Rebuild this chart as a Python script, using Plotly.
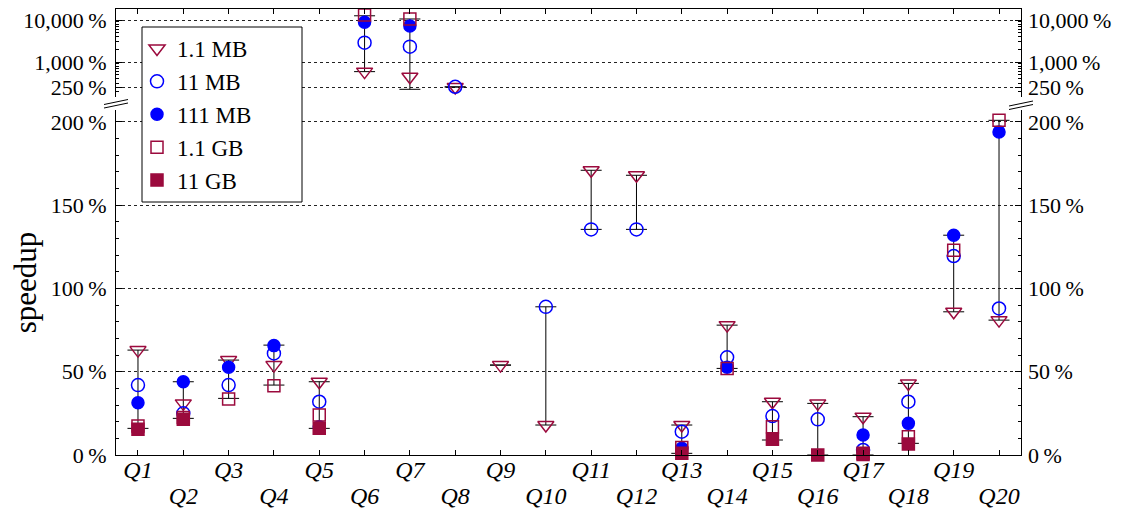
import plotly.graph_objects as go

# speedup per query (%) for each data size, None = no value
queries = [f"Q{i}" for i in range(1, 21)]
mb_1_1 = [63, 31, 57, 54, 44, 590, 447, 255, 54, 18, 171, 168, 18, 78, 32, 31, 23, 43, 86, 81]
mb_11 = [42, 25, 42, 61, 32, 2890, 2320, 257, None, 89, 135.5, 135.5, 14, 58.7, 23.4, 21.4, 3, 32, 119.5, 88]
mb_111 = [31.4, 44, 52.7, 65.7, 17, 8800, 7200, None, None, None, None, None, 4, 52.7, None, None, 12, 19, 132, 194]
gb_1_1 = [17.4, 22.5, 33.6, 41.6, 24, 13150, 10570, None, None, None, None, None, 4.5, 52, 17, None, 1, 11, 123, 201]
gb_11 = [15.4, 21.5, None, None, 16, None, None, None, None, None, None, None, 1, None, 9.4, 0, 0.3, 6.6, None, None]

# vertical range bars per query
range_lo = [16, 22, 34, 42, 16, 590, 224, 255, 54, 18, 135.5, 135.5, 1, 52, 9, 0, 0, 7, 86, 81]
range_hi = [63, 44, 57, 66, 44, 12600, 10570, 255, 54, 89, 171, 168, 18, 78, 32, 31, 23, 43, 132, 201]

low_ticks = [0, 50, 100, 150, 200]
high_ticks = [250, 1000, 10000]
low_labels = ["0\u2009%", "50\u2009%", "100\u2009%", "150\u2009%", "200\u2009%"]
high_labels = ["250\u2009%", "1,000\u2009%", "10,000\u2009%"]

LOW_TOP = 207.2
HIGH_RANGE = [2.167, 4.262]

RED = "#9b0a3d"
BLUE = "#0000ff"
FONT = "Liberation Serif"

# page body has an 8px margin, so the figure is a bit smaller than the window
W, H = 1114, 502
ML, MR, MT, MB = 108, 101, 1, 55


def px(xp):
    # window x -> paper x
    return (xp - 8 - ML) / (W - ML - MR)


def py(yp):
    # window y -> paper y
    return (H - MB - (yp - 8)) / (H - MT - MB)


xs = list(range(1, len(queries) + 1))
odd_x = xs[0::2]
even_x = xs[1::2]
panels = (("low", "x", "y"), ("high", "x2", "y2"))
fig = go.Figure()

# range bars, split by panel
for panel, xax, yax in panels:
    bx, by = [], []
    for x, lo, hi in zip(xs, range_lo, range_hi):
        if (hi <= LOW_TOP) == (panel == "low"):
            bx += [x, x, None]
            by += [lo, hi, None]
    fig.add_trace(go.Scatter(
        x=bx, y=by, xaxis=xax, yaxis=yax, mode="lines+markers",
        line=dict(color="black", width=1),
        marker=dict(symbol="line-ew-open", size=15, line=dict(color="black", width=1)),
        showlegend=False, hoverinfo="skip", cliponaxis=False,
    ))

series = [
    ("1.1 MB", mb_1_1, "triangle-down-open", RED, 14),
    ("11 MB", mb_11, "circle-open", BLUE, 13),
    ("111 MB", mb_111, "circle", BLUE, 12),
    ("1.1 GB", gb_1_1, "square-open", RED, 12),
    ("11 GB", gb_11, "square", RED, 12),
]

for name, vals, sym, col, size in series:
    for panel, xax, yax in panels:
        sx, sy = [], []
        for x, v in zip(xs, vals):
            if v is None:
                continue
            if (v <= LOW_TOP) == (panel == "low"):
                sx.append(x)
                sy.append(v)
        fig.add_trace(go.Scatter(
            x=sx, y=sy, xaxis=xax, yaxis=yax, mode="markers", name=name,
            showlegend=(panel == "low"),
            marker=dict(symbol=sym, size=size, color=col, line=dict(color=col, width=1.5)),
            cliponaxis=False,
        ))

# empty traces so the helper axes (right labels, second label row) get drawn
for xa, ya in (("x", "y3"), ("x2", "y4"), ("x3", "y")):
    fig.add_trace(go.Scatter(x=[None], y=[None], xaxis=xa, yaxis=ya,
                             showlegend=False, hoverinfo="skip"))

tfont = dict(family=FONT, size=22, color="black")
xfont = dict(family=FONT, size=24, color="black")
XR = [0.515, 20.485]
axis_common = dict(showline=True, linecolor="black", linewidth=1, zeroline=False,
                   ticks="inside", tickcolor="black", ticklen=6, automargin=False)
grid = dict(showgrid=True, gridcolor="#222", gridwidth=1, griddash="dot")

shapes = []
# legend frame (white box over the grid)
shapes.append(dict(type="rect", xref="paper", yref="paper", layer="above",
                   x0=px(142), x1=px(302), y0=py(202), y1=py(27),
                   fillcolor="white", line=dict(color="black", width=1)))
# axis break marks
for x0, x1, y0 in ((104, 128, 104.5), (1009, 1033, 106)):
    for off in (0, 3.5):
        shapes.append(dict(type="line", xref="paper", yref="paper",
                           x0=px(x0), x1=px(x1), y0=py(y0 + off), y1=py(y0 + off - 5),
                           line=dict(color="black", width=1)))

fig.update_layout(
    width=W, height=H,
    margin=dict(l=ML, r=MR, t=MT, b=MB, autoexpand=False),
    plot_bgcolor="white", paper_bgcolor="white",
    font=dict(family=FONT, color="black"),
    xaxis=dict(range=XR, tickvals=odd_x, ticktext=[f"<i>{queries[i - 1]}</i>" for i in odd_x],
               anchor="y", showgrid=False, tickfont=xfont, ticklabelstandoff=-7,
               **{**axis_common, "ticklen": 5}),
    xaxis3=dict(overlaying="x", range=XR, anchor="y", side="bottom",
                tickvals=even_x, ticktext=[f"<i>{queries[i - 1]}</i>" for i in even_x],
                showgrid=False, showline=False, zeroline=False, ticks="inside", ticklen=5,
                tickcolor="black", tickfont=xfont, ticklabelstandoff=24, automargin=False),
    xaxis2=dict(range=XR, anchor="y2", side="top", showticklabels=False,
                showgrid=False, tickvals=xs, **{**axis_common, "ticklen": 5}),
    yaxis=dict(domain=[0, py(110)], range=[0, LOW_TOP], tickvals=low_ticks, ticktext=low_labels,
               mirror="ticks", anchor="x", tickfont=tfont, ticklabelstandoff=4,
               minor=dict(ticks="inside", dtick=10, ticklen=3, tickcolor="black"),
               title=dict(text="speedup", font=dict(family=FONT, size=31), standoff=6),
               **grid, **axis_common),
    yaxis2=dict(domain=[py(97), 1], type="log", range=HIGH_RANGE, tickvals=high_ticks,
                ticktext=high_labels, mirror="ticks", anchor="x2", tickfont=tfont,
                ticklabelstandoff=4, ticklabeloverflow="allow",
                minor=dict(ticks="inside", dtick="D1", ticklen=3, tickcolor="black"),
                **grid, **axis_common),
    yaxis3=dict(overlaying="y", side="right", anchor="x", range=[0, LOW_TOP], tickvals=low_ticks,
                ticktext=low_labels, showgrid=False, zeroline=False, ticks="",
                showline=False, tickfont=tfont, ticklabelstandoff=6, automargin=False),
    yaxis4=dict(overlaying="y2", side="right", anchor="x2", type="log", range=HIGH_RANGE,
                tickvals=high_ticks, ticktext=high_labels, showgrid=False, zeroline=False,
                ticks="", showline=False, tickfont=tfont, ticklabelstandoff=6,
                ticklabeloverflow="allow", automargin=False),
    legend=dict(x=px(137), y=py(27), xanchor="left", yanchor="top",
                bgcolor="rgba(0,0,0,0)", borderwidth=0, tracegroupgap=0,
                font=dict(family=FONT, size=23, color="black"), itemwidth=30),
    shapes=shapes,
)

fig.write_html("out.html")
